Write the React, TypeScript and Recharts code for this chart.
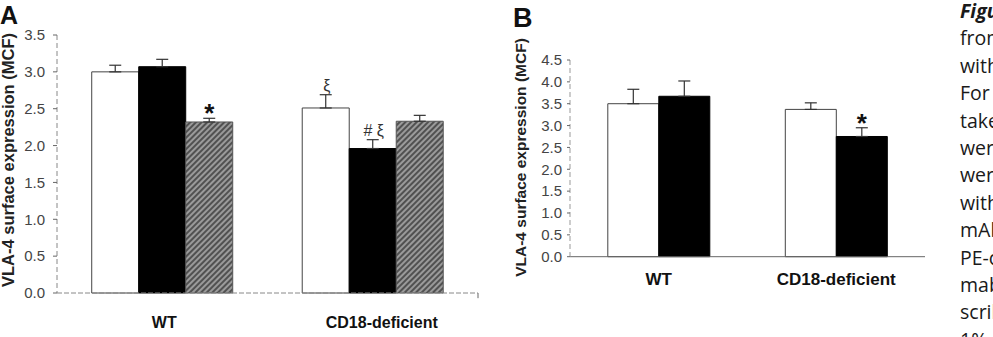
import React from 'react';
import { BarChart, Bar, XAxis, YAxis, ErrorBar, LabelList, ReferenceLine } from 'recharts';

// ---------- data ----------
const categories = ['WT', 'CD18-deficient'];

// Panel A
const aOpen = [3.0, 2.51];
const aOpenErr = [0.09, 0.18];
const aSolid = [3.07, 1.96];
const aSolidErr = [0.1, 0.12];
const aHatched = [2.32, 2.33];
const aHatchedErr = [0.05, 0.08];
const aOpenNote = ['', 'ξ'];
const aSolidNote = ['', '# ξ'];
const aHatchedNote = ['*', ''];
const aTicks = [0, 0.5, 1, 1.5, 2, 2.5, 3, 3.5];

// Panel B
const bOpen = [3.5, 3.37];
const bOpenErr = [0.33, 0.15];
const bSolid = [3.67, 2.75];
const bSolidErr = [0.35, 0.2];
const bOpenNote = ['', ''];
const bSolidNote = ['', '*'];
const bTicks = [0, 0.5, 1, 1.5, 2, 2.5, 3, 3.5, 4, 4.5];

const yAxisTitle = 'VLA-4 surface expression (MCF)';
const captionLines = [
  'Figure',
  'from',
  'with',
  'For',
  'taken',
  'were',
  'were',
  'with',
  'mAb',
  'PE-c',
  'mab',
  'scribed',
  '1%',
];

// ---------- tables for recharts ----------
const dataA = categories.map((c, i) => ({
  group: c,
  open: aOpen[i],
  openErr: [0, aOpenErr[i]],
  openNote: aOpenNote[i],
  solid: aSolid[i],
  solidErr: [0, aSolidErr[i]],
  solidNote: aSolidNote[i],
  hatched: aHatched[i],
  hatchedErr: [0, aHatchedErr[i]],
  hatchedNote: aHatchedNote[i],
}));

const dataB = categories.map((c, i) => ({
  group: c,
  open: bOpen[i],
  openErr: [0, bOpenErr[i]],
  openNote: bOpenNote[i],
  solid: bSolid[i],
  solidErr: [0, bSolidErr[i]],
  solidNote: bSolidNote[i],
}));

const FONT = '"Liberation Sans", Arial, Helvetica, sans-serif';

// annotation placed above the error bar top, using the bar geometry
const makeNote = (rows: any[], valueKey: string, errKey: string) => (props: any) => {
  const idx = props.index;
  const row = rows[idx];
  const note = props.value;
  if (!row || !note) return null;
  const vb = props.viewBox || {};
  const x = vb.x ?? props.x;
  const y = vb.y ?? props.y;
  const w = vb.width ?? props.width;
  const h = vb.height ?? props.height;
  const top = Math.min(y, y + h);
  const hh = Math.abs(h);
  const value = row[valueKey];
  const err = row[errKey][1];
  const errTop = top - (err * hh) / value;
  const isStar = note === '*';
  return (
    <text
      x={x + w / 2 + (isStar ? 0 : 1)}
      y={isStar ? errTop + 4 : errTop - 4}
      textAnchor="middle"
      fontFamily={FONT}
      fontSize={isStar ? 26 : 16}
      fontWeight={isStar ? 'bold' : 'normal'}
      fill={isStar ? '#111' : '#333'}
    >
      {note}
    </text>
  );
};

const catTick = (fontSize: number, shifts: number[]) => (props: any) => {
  const { x, y, payload, index } = props;
  return (
    <text
      x={x + (shifts[index] || 0)}
      y={y}
      dy={fontSize * 0.71}
      textAnchor="middle"
      fontFamily={FONT}
      fontSize={fontSize}
      fontWeight="bold"
      fill="#111"
    >
      {payload.value}
    </text>
  );
};

const errStyle = { stroke: '#333', strokeWidth: 1.2 };

export default function App() {
  return (
    <div style={{ position: 'absolute', left: 0, top: 0, width: 993, height: 337, background: '#fff', overflow: 'hidden' }}>
      {/* Panel A */}
      <div style={{ position: 'absolute', left: 0, top: 0 }}>
        <BarChart
          width={480}
          height={337}
          data={dataA}
          margin={{ top: 35, right: 2, bottom: 0, left: 0 }}
          barGap={0}
          barCategoryGap="16.5%"
        >
          <defs>
            <pattern id="hatchA" width="4" height="4" patternUnits="userSpaceOnUse" patternTransform="rotate(45)">
              <rect width="4" height="4" fill="#9a9a9a" />
              <line x1="1" y1="0" x2="1" y2="4" stroke="#444" strokeWidth="1.7" />
            </pattern>
          </defs>
          <XAxis
            dataKey="group"
            height={44}
            axisLine={{ stroke: '#888', strokeDasharray: '5 2' }}
            tickLine={false}
            tickSize={6}
            tickMargin={18}
            tick={catTick(16, [2, 9])}
            interval={0}
          />
          <XAxis xAxisId="mid" type="number" domain={[0, 2]} hide />
          <YAxis
            type="number"
            domain={[0, 3.5]}
            ticks={aTicks}
            interval={0}
            width={57}
            axisLine={{ stroke: '#888', strokeDasharray: '5 3' }}
            tickLine={{ stroke: '#666' }}
            tickSize={4}
            tickMargin={8}
            tickFormatter={(v: number) => v.toFixed(1)}
            tick={{ fill: '#444', fontSize: 15, fontFamily: FONT }}
          />
          <ReferenceLine
            xAxisId="mid"
            segment={[{ x: 1, y: 0 }, { x: 1, y: -0.07 }]}
            stroke="#666"
            ifOverflow="visible"
          />
          <Bar dataKey="open" fill="#ffffff" stroke="#444" strokeWidth={1} isAnimationActive={false}>
            <ErrorBar dataKey="openErr" width={6} {...errStyle} />
            <LabelList dataKey="openNote" content={makeNote(dataA, 'open', 'openErr')} />
          </Bar>
          <Bar dataKey="solid" fill="#000000" stroke="#000" strokeWidth={1} isAnimationActive={false}>
            <ErrorBar dataKey="solidErr" width={6} {...errStyle} />
            <LabelList dataKey="solidNote" content={makeNote(dataA, 'solid', 'solidErr')} />
          </Bar>
          <Bar dataKey="hatched" fill="url(#hatchA)" stroke="#555" strokeWidth={1} isAnimationActive={false}>
            <ErrorBar dataKey="hatchedErr" width={6} {...errStyle} />
            <LabelList dataKey="hatchedNote" content={makeNote(dataA, 'hatched', 'hatchedErr')} />
          </Bar>
        </BarChart>
      </div>

      {/* Panel B */}
      <div style={{ position: 'absolute', left: 480, top: 0 }}>
        <BarChart
          width={460}
          height={337}
          data={dataB}
          margin={{ top: 60, right: 15, bottom: 0, left: 0 }}
          barGap={0}
          barCategoryGap="21.3%"
        >
          <XAxis
            dataKey="group"
            height={80.3}
            axisLine={{ stroke: '#666' }}
            tickLine={false}
            tickSize={6}
            tickMargin={10}
            tick={catTick(17, [0, 0])}
            interval={0}
          />
          <YAxis
            type="number"
            domain={[0, 4.5]}
            ticks={bTicks}
            interval={0}
            width={90}
            axisLine={{ stroke: '#999', strokeDasharray: '5 3' }}
            tickLine={{ stroke: '#666' }}
            tickSize={3}
            tickMargin={5}
            tickFormatter={(v: number) => v.toFixed(1)}
            tick={{ fill: '#444', fontSize: 15, fontFamily: FONT }}
          />
          <Bar dataKey="open" fill="#ffffff" stroke="#444" strokeWidth={1} isAnimationActive={false}>
            <ErrorBar dataKey="openErr" width={6} {...errStyle} />
            <LabelList dataKey="openNote" content={makeNote(dataB, 'open', 'openErr')} />
          </Bar>
          <Bar dataKey="solid" fill="#000000" stroke="#000" strokeWidth={1} isAnimationActive={false}>
            <ErrorBar dataKey="solidErr" width={6} {...errStyle} />
            <LabelList dataKey="solidNote" content={makeNote(dataB, 'solid', 'solidErr')} />
          </Bar>
        </BarChart>
      </div>

      {/* Titles, panel letters and caption column */}
      <svg
        width={993}
        height={337}
        style={{ position: 'absolute', left: 0, top: 0, pointerEvents: 'none' }}
      >
        <text x={0} y={24} fontFamily={FONT} fontSize={25} fontWeight="bold" fill="#111">A</text>
        <text x={513} y={27} fontFamily={FONT} fontSize={27} fontWeight="bold" fill="#111">B</text>
        <text
          x={14}
          y={160}
          transform="rotate(-90 14 160)"
          textAnchor="middle"
          fontFamily={FONT}
          fontSize={16.5}
          fontWeight="bold"
          fill="#222"
        >
          {yAxisTitle}
        </text>
        <text
          x={525.5}
          y={157.5}
          transform="rotate(-90 525.5 157.5)"
          textAnchor="middle"
          fontFamily={FONT}
          fontSize={15.5}
          fontWeight="bold"
          fill="#222"
        >
          {yAxisTitle}
        </text>
        {captionLines.map((line, i) => (
          <text
            key={i}
            x={960}
            y={18 + i * 27.4}
            fontFamily='"Open Sans", "Noto Sans", sans-serif'
            fontSize={19.5}
            fontStyle={i === 0 ? 'italic' : 'normal'}
            fontWeight={i === 0 ? 'bold' : 'normal'}
            fill="#1a1a1a"
          >
            {line}
          </text>
        ))}
      </svg>
    </div>
  );
}
